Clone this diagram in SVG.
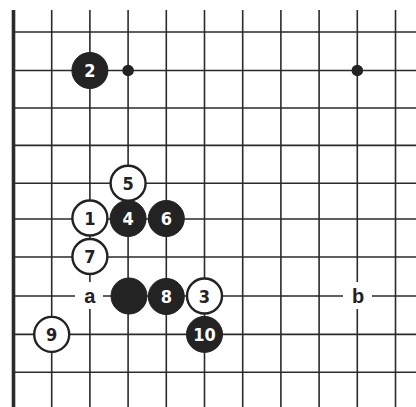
<svg xmlns="http://www.w3.org/2000/svg" width="416" height="407" viewBox="0 0 416 407">
<style>
.g{stroke:#2b2b2b;stroke-width:1.6;fill:none}
.edge{stroke:#2b2b2b;stroke-width:3.6}
.w{fill:#fff;stroke:#222;stroke-width:2.4}
.b{fill:#232323;stroke:#232323;stroke-width:1}
.tw{font-family:"DejaVu Sans Condensed","DejaVu Sans",sans-serif;font-weight:bold;font-size:18px;fill:#fff;text-anchor:middle}
.tb{font-family:"DejaVu Sans Condensed","DejaVu Sans",sans-serif;font-weight:bold;font-size:18px;fill:#222;text-anchor:middle}
.lbl{font-family:"Liberation Sans",Arial,sans-serif;font-weight:bold;font-size:20px;fill:#222;text-anchor:middle}
</style>
<rect width="416" height="407" fill="#fff"/>
<g id="connectors">
<g class="g">
<path d="M51.7 10V407M89.9 10V407M128.1 10V407M166.3 10V407M204.5 10V407M242.7 10V407M280.9 10V407M319.1 10V407M357.3 10V407M395.5 10V407"/>
<path d="M13.5 32H416M13.5 70.5H416M13.5 108H416M13.5 145.4H416M13.5 183.2H416M13.5 219H416M13.5 257H416M13.5 296H416M13.5 334.4H416M13.5 372.2H416"/>
</g>
<line class="edge" x1="13.5" y1="10" x2="13.5" y2="407"/>
</g>
<g id="hoshi1"><circle cx="128.1" cy="70.5" r="5.8" fill="#232323"/></g>
<g id="hoshi2"><circle cx="357.3" cy="70.5" r="5.8" fill="#232323"/></g>
<g id="s2"><circle class="b" cx="89.9" cy="70.5" r="18"/><text class="tw" x="89.9" y="77">2</text></g>
<g id="s5"><circle class="w" cx="128.1" cy="183.2" r="17.5"/><text class="tb" x="128.1" y="189.7">5</text></g>
<g id="s1"><circle class="w" cx="89.9" cy="218" r="17.5"/><text class="tb" x="89.9" y="224.5">1</text></g>
<g id="s4"><circle class="b" cx="128.1" cy="218.5" r="18"/><text class="tw" x="128.1" y="225">4</text></g>
<g id="s6"><circle class="b" cx="166.3" cy="218.5" r="18"/><text class="tw" x="166.3" y="225">6</text></g>
<g id="s7"><circle class="w" cx="89.9" cy="256.5" r="17.5"/><text class="tb" x="89.9" y="263">7</text></g>
<g id="la"><rect x="75" y="282" width="28" height="27" fill="#fff"/><text class="lbl" x="89.9" y="303">a</text></g>
<g id="sx"><circle class="b" cx="129" cy="296" r="18"/></g>
<g id="s8"><circle class="b" cx="166.3" cy="296.5" r="18"/><text class="tw" x="166.3" y="303">8</text></g>
<g id="s3"><circle class="w" cx="204.5" cy="296" r="17.5"/><text class="tb" x="204.5" y="302.5">3</text></g>
<g id="s10"><circle class="b" cx="204.5" cy="334.4" r="18"/><text class="tw" x="204.5" y="340.9">10</text></g>
<g id="s9"><circle class="w" cx="51.7" cy="334.4" r="17.5"/><text class="tb" x="51.7" y="340.9">9</text></g>
<g id="lb"><rect x="343" y="282" width="29" height="27" fill="#fff"/><text class="lbl" x="358" y="303">b</text></g>
</svg>
